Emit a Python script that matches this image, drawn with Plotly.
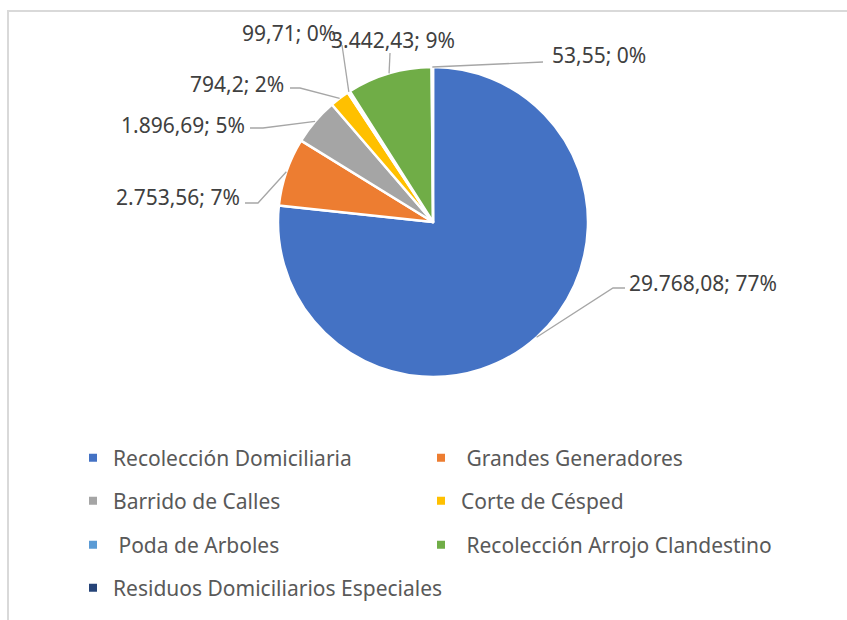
import math
import plotly.graph_objects as go

# data
categories = [
    "Recolección Domiciliaria",
    " Grandes Generadores",
    "Barrido de Calles",
    "Corte de Césped",
    " Poda de Arboles",
    " Recolección Arrojo Clandestino",
    "Residuos Domiciliarios Especiales",
]
values = [29768.08, 2753.56, 1896.69, 794.2, 99.71, 3442.43, 53.55]
colors = ["#4472C4", "#ED7D31", "#A5A5A5", "#FFC000", "#5B9BD5", "#70AD47", "#264478"]

W, H = 847, 620
CX, CY, R = 433, 222, 155
FONT = "Noto Sans"

# label layout (pixels): elbow, end of leader, text anchor, xanchor
label_layout = [
    ((613, 288), (625, 288), (627, 283), "left"),
    ((258, 203), (245, 203), (242, 197), "right"),
    ((263, 128), (250, 128), (247, 125), "right"),
    ((300, 88), (290, 88), (286, 84), "right"),
    ((342, 45), (342, 45), (289, 33), "center"),
    ((390, 53), (390, 53), (393, 40), "center"),
    ((543, 62), (543, 62), (550, 55), "left"),
]

# legend slots (pixels): text start x, row centre y
legend_slots = [(113, 458), (461, 458), (113, 501), (461, 501),
                (113, 545), (461, 545), (113, 588)]


def px(x):
    return x / W


def py(y):
    return 1 - y / H


def es_num(v):
    s = f"{v:,.2f}".rstrip("0").rstrip(".")
    return s.replace(",", "X").replace(".", ",").replace("X", ".")


fig = go.Figure()
fig.add_trace(go.Pie(
    values=values, labels=categories, sort=False, direction="clockwise",
    marker=dict(colors=colors, line=dict(color="white", width=2.5)),
    textinfo="none", hoverinfo="label+value+percent", showlegend=False,
    domain=dict(x=[px(CX - R), px(CX + R)], y=[py(CY + R), py(CY - R)]),
))

total = sum(values)
cum = 0
shapes = [dict(type="rect", xref="paper", yref="paper", x0=px(8), x1=1.05,
               y0=-0.05, y1=py(11), line=dict(color="#D9D9D9", width=2))]
annotations = []
for v, (elbow, end, tpos, xa) in zip(values, label_layout):
    theta = 2 * math.pi * (cum + v / 2) / total
    cum += v
    ex, ey = CX + R * math.sin(theta), CY - R * math.cos(theta)
    path = (f"M {px(ex)},{py(ey)} L {px(elbow[0])},{py(elbow[1])} "
            f"L {px(end[0])},{py(end[1])}")
    shapes.append(dict(type="path", xref="paper", yref="paper", path=path,
                       line=dict(color="#A6A6A6", width=1.3)))
    pct = round(100 * v / total)
    annotations.append(dict(
        text=f"{es_num(v)}; {pct}%", x=px(tpos[0]), y=py(tpos[1]),
        xref="paper", yref="paper", xanchor=xa, yanchor="middle",
        showarrow=False, font=dict(family=FONT, size=21, color="#404040"),
    ))

# legend: one small legend per entry so the two-column grid lines up
legends = {}
for i, (name, c, (lx, ly)) in enumerate(zip(categories, colors, legend_slots)):
    key = "legend" if i == 0 else f"legend{i + 1}"
    fig.add_trace(go.Scatter(
        x=[None], y=[None], mode="markers", name=name, legend=key,
        marker=dict(symbol="square", size=8, color=c),
    ))
    legends[key] = dict(
        x=px(lx - 40), y=py(ly), xanchor="left", yanchor="middle",
        orientation="h", bgcolor="rgba(0,0,0,0)",
        font=dict(family=FONT, size=21, color="#595959"),
    )

fig.update_layout(
    width=W, height=H, margin=dict(l=0, r=0, t=0, b=0),
    paper_bgcolor="white", plot_bgcolor="white",
    xaxis=dict(visible=False), yaxis=dict(visible=False),
    shapes=shapes, annotations=annotations, **legends,
)

fig.write_html("out.html", config={"displayModeBar": False},
               post_script="document.body.style.margin='0px';")
